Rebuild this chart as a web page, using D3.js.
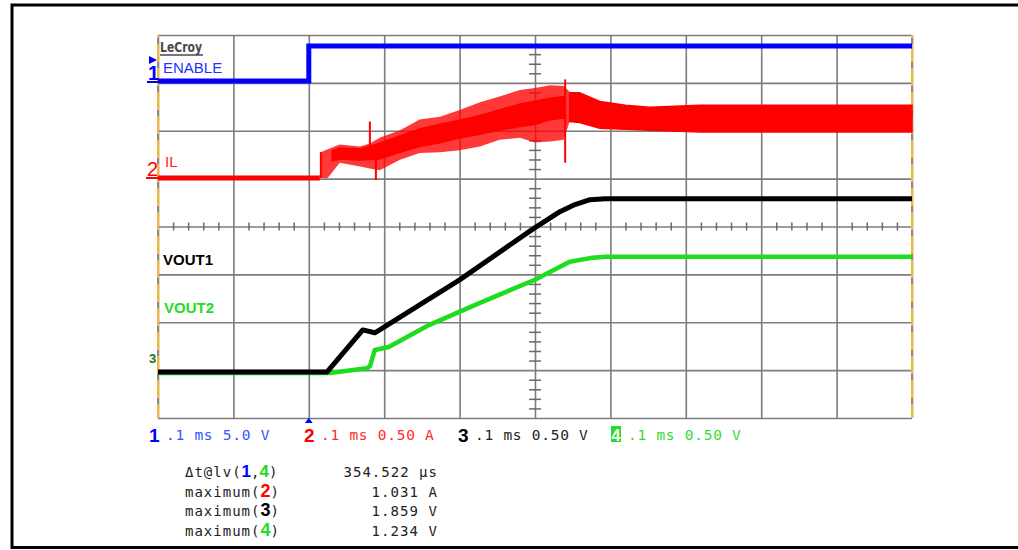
<!DOCTYPE html>
<html><head><meta charset="utf-8">
<script src="https://cdn.jsdelivr.net/npm/d3@7"></script>
<style>body{margin:0;background:#fff}svg{display:block}</style>
</head><body><svg id="c" width="1018" height="550"></svg>
<script>
// ---------- data (time in ms, values in channel units) ----------
const gridTimes = [-0.2,-0.1,0,0.1,0.2,0.3,0.4,0.5,0.6,0.7,0.8];
const gridDivs  = [-4,-3,-2,-1,0,1,2,3,4];

const channelNames   = ["ENABLE","IL","VOUT1","VOUT2"];
const channelPerDiv  = [5.0, 0.50, 0.50, 0.50];
const channelZeroDiv = [3.04, 1.013, -3.04, -3.06];

const enableTime  = [-0.2, 0, 0, 0.8];
const enableVolts = [0, 0, 3.66, 3.66];

const ilBaseTime = [-0.2, 0.0146];
const ilBaseAmps = [0, 0];

const ilRippleTime = [0.0146,0.016,0.025,0.041,0.068,0.081,0.094,0.121,0.147,0.174,0.200,0.227,0.253,0.280,0.300,0.320,0.338,0.346];
const ilRippleHigh = [0,0.27,0.30,0.35,0.33,0.36,0.42,0.50,0.61,0.64,0.71,0.79,0.85,0.92,0.94,0.97,0.96,0.90];
const ilRippleLow  = [0,0,0,0.16,0.12,0.10,0.08,0.19,0.26,0.27,0.29,0.33,0.40,0.42,0.37,0.38,0.40,0.59];

const ilCoreTime = [0.030,0.041,0.068,0.094,0.121,0.147,0.174,0.200,0.227,0.253,0.280,0.300,0.320,0.340];
const ilCoreHigh = [0.29,0.32,0.31,0.37,0.45,0.52,0.57,0.61,0.66,0.72,0.78,0.81,0.84,0.86];
const ilCoreLow  = [0.17,0.19,0.18,0.19,0.26,0.32,0.36,0.41,0.45,0.49,0.53,0.55,0.60,0.62];

const ilSettledTime = [0.346,0.359,0.386,0.420,0.452,0.519,0.8];
const ilSettledHigh = [0.89,0.89,0.80,0.76,0.74,0.76,0.76];
const ilSettledLow  = [0.59,0.58,0.52,0.51,0.50,0.48,0.48];

const ilSpikeTime = [0.016,0.081,0.089,0.340];
const ilSpikeLow  = [0,0.30,-0.02,0.16];
const ilSpikeHigh = [0.27,0.59,0.30,1.03];

const vout1Time  = [-0.2,0.024,0.0716,0.0875,0.094,0.200,0.296,0.333,0.353,0.373,0.393,0.8];
const vout1Volts = [0,0,0.44,0.41,0.44,0.963,1.487,1.675,1.749,1.80,1.81,1.81];

const vout2Time  = [-0.2,0.028,0.077,0.081,0.0875,0.106,0.160,0.227,0.300,0.346,0.373,0.393,0.8];
const vout2Volts = [0,0,0.05,0.07,0.24,0.272,0.503,0.733,0.974,1.162,1.20,1.215,1.215];

const footerChannels = ["1","2","3","4"];
const footerTexts = [".1 ms 5.0 V",".1 ms 0.50 A",".1 ms 0.50 V",".1 ms 0.50 V"];
const measureLabels = ["maximum(","maximum(","maximum("];
const measureChannels = ["2","3","4"];
const measureValues = ["354.522 μs","1.031 A","1.859 V","1.234 V"];

// ---------- drawing ----------
const svg = d3.select("#c");
const P = {l:158, r:912, t:35, b:418};
const colors = ["#0000ff","#ff0000","#000000","#1edc1e"];
const textColors = ["#3355ff","#ff2a2a","#222222","#33dd33"];

const x = d3.scaleLinear().domain([-0.2,0.8]).range([P.l,P.r]);
const ydiv = d3.scaleLinear().domain([-4,4]).range([P.b,P.t]);
const chY = i => d3.scaleLinear().domain([0,channelPerDiv[i]])
  .range([ydiv(channelZeroDiv[i]), ydiv(channelZeroDiv[i]+1)]);
const yCh = [0,1,2,3].map(chY);

// outer frame
svg.append("rect").attr("x",12).attr("y",5).attr("width",1020).attr("height",542.5)
  .attr("fill","none").attr("stroke","#000").attr("stroke-width",3);

// grid via axes
const gGridV = svg.append("g").attr("transform",`translate(0,${P.b})`)
  .call(d3.axisBottom(x).tickValues(gridTimes).tickSize(-(P.b-P.t)).tickFormat(""));
const gGridH = svg.append("g").attr("transform",`translate(${P.l},0)`)
  .call(d3.axisLeft(ydiv).tickValues(gridDivs).tickSize(-(P.r-P.l)).tickFormat(""));
[gGridV,gGridH].forEach(g=>{g.select(".domain").remove();
  g.selectAll("line").attr("stroke","#7d7d7d").attr("stroke-width",1.6);});

// minor ticks on centre cross
const minorT = d3.range(-0.2,0.8001,0.02).filter(t=>Math.abs(Math.round(t*10)-t*10)>1e-6);
const minorD = d3.range(-4,4.001,0.2).filter(d=>Math.abs(Math.round(d)-d)>1e-6);
const gMinX = svg.append("g").attr("transform",`translate(0,${ydiv(0)-4})`)
  .call(d3.axisBottom(x).tickValues(minorT).tickSize(8).tickFormat(""));
const gMinY = svg.append("g").attr("transform",`translate(${x(0.3)+6},0)`)
  .call(d3.axisLeft(ydiv).tickValues(minorD).tickSize(12).tickFormat(""));
[gMinX,gMinY].forEach(g=>{g.select(".domain").remove();
  g.selectAll("line").attr("stroke","#6a6a6a").attr("stroke-width",1.5);});

// orange side edges with grey dashes
[P.l,P.r].forEach(ex=>{
  svg.append("line").attr("x1",ex).attr("x2",ex).attr("y1",P.t).attr("y2",P.b)
    .attr("stroke","#ffb52e").attr("stroke-width",2);
  svg.append("line").attr("x1",ex).attr("x2",ex).attr("y1",P.t).attr("y2",P.b)
    .attr("stroke","#8a8a8a").attr("stroke-width",2)
    .attr("stroke-dasharray","6 18").attr("stroke-dashoffset",-3);
});

const line = ys => d3.line().x(d=>x(d[0])).y(d=>ys(d[1]));
const zip = (a,b)=>a.map((v,i)=>[v,b[i]]);
const zip3 = (a,b,c)=>a.map((v,i)=>[v,b[i],c[i]]);
const area = ys => d3.area().x(d=>x(d[0])).y0(d=>ys(d[1])).y1(d=>ys(d[2]));

// ENABLE
svg.append("path").datum(zip(enableTime,enableVolts)).attr("d",line(yCh[0]))
  .attr("fill","none").attr("stroke",colors[0]).attr("stroke-width",5);

// IL
svg.append("path").datum(zip(ilBaseTime,ilBaseAmps)).attr("d",line(yCh[1]))
  .attr("fill","none").attr("stroke",colors[1]).attr("stroke-width",5);
svg.append("path").datum(zip3(ilRippleTime,ilRippleLow,ilRippleHigh)).attr("d",area(yCh[1]))
  .attr("fill",colors[1]).attr("fill-opacity",0.78);
svg.append("path").datum(zip3(ilCoreTime,ilCoreLow,ilCoreHigh)).attr("d",area(yCh[1]))
  .attr("fill",colors[1]);
svg.append("path").datum(zip3(ilSettledTime,ilSettledLow,ilSettledHigh)).attr("d",area(yCh[1]))
  .attr("fill",colors[1]).attr("stroke",colors[1]).attr("stroke-width",1.5);
svg.selectAll(".spike").data(zip3(ilSpikeTime,ilSpikeLow,ilSpikeHigh)).join("line")
  .attr("x1",d=>x(d[0])).attr("x2",d=>x(d[0]))
  .attr("y1",d=>yCh[1](d[1])).attr("y2",d=>yCh[1](d[2]))
  .attr("stroke",colors[1]).attr("stroke-width",2);

// VOUT2 then VOUT1
svg.append("path").datum(zip(vout2Time,vout2Volts)).attr("d",line(yCh[3]))
  .attr("fill","none").attr("stroke",colors[3]).attr("stroke-width",4.5).attr("stroke-linejoin","round");
svg.append("path").datum(zip(vout1Time,vout1Volts)).attr("d",line(yCh[2]))
  .attr("fill","none").attr("stroke",colors[2]).attr("stroke-width",5).attr("stroke-linejoin","round");

// in-screen labels
svg.append("text").attr("x",160).attr("y",52).text("LeCroy")
  .attr("font-family","DejaVu Sans Condensed, DejaVu Sans").attr("font-weight","bold")
  .attr("font-size",14).attr("fill","#4a4a4a").attr("textLength",42).attr("lengthAdjust","spacingAndGlyphs");
svg.append("line").attr("x1",160).attr("x2",203).attr("y1",55).attr("y2",55).attr("stroke","#4a4a4a").attr("stroke-width",1.5);
const lab = (t,xx,yy,c,w)=>svg.append("text").attr("x",xx).attr("y",yy).text(t)
  .attr("font-family","Liberation Sans, Arial, sans-serif").attr("font-size",15)
  .attr("font-weight",w).attr("fill",c);
lab(channelNames[0],163,73,"#2233ff","normal");
lab(channelNames[1],165,167,"#ff1a1a","normal");
lab(channelNames[2],163,265,"#000","bold");
lab(channelNames[3],164,313,"#22dd22","bold");

// left channel markers
svg.append("path").attr("d","M149,56 L157,60 L149,64 Z").attr("fill",colors[0]);
svg.append("text").attr("x",148).attr("y",80).text("1").attr("font-family","Liberation Sans, Arial")
  .attr("font-weight","bold").attr("font-size",20).attr("fill",colors[0]);
svg.append("line").attr("x1",147).attr("x2",158).attr("y1",82).attr("y2",82).attr("stroke",colors[0]).attr("stroke-width",2);
svg.append("text").attr("x",147).attr("y",176).text("2").attr("font-family","Liberation Sans, Arial")
  .attr("font-size",20).attr("fill",colors[1]);
svg.append("line").attr("x1",146).attr("x2",158).attr("y1",178).attr("y2",178).attr("stroke",colors[1]).attr("stroke-width",2);
svg.append("text").attr("x",149).attr("y",363).text("3").attr("font-family","Liberation Sans, Arial")
  .attr("font-weight","bold").attr("font-size",13).attr("fill","#117711");
// trigger marker
svg.append("path").attr("d",`M${x(0)-4},423 L${x(0)+4},423 L${x(0)},418 Z`).attr("fill",colors[0]);

// footer row
const mono = "DejaVu Sans Mono, Liberation Mono, monospace";
const footX = [149,304,458,611];
footerChannels.forEach((c,i)=>{
  if(i===3){
    svg.append("rect").attr("x",footX[i]).attr("y",426).attr("width",10).attr("height",16).attr("fill","#22dd22");
    svg.append("text").attr("x",footX[i]+5).attr("y",441).attr("text-anchor","middle").text(c)
      .attr("font-family","Liberation Sans, Arial").attr("font-weight","bold").attr("font-size",16).attr("fill","#fff");
  } else {
    svg.append("text").attr("x",footX[i]).attr("y",442).text(c)
      .attr("font-family","Liberation Sans, Arial").attr("font-weight","bold").attr("font-size",19).attr("fill",colors[i]);
  }
  svg.append("text").attr("x",footX[i]+17).attr("y",440).text(footerTexts[i])
    .attr("font-family",mono).attr("font-size",14.5).attr("fill",textColors[i])
    .attr("textLength",footerTexts[i].length*9.4).attr("lengthAdjust","spacing");
});

// measurements
const rowY = [477,497,516,536];
const m0 = svg.append("text").attr("x",185).attr("y",rowY[0]).attr("font-family",mono).attr("font-size",14).attr("fill","#222");
m0.append("tspan").text("Δt@lv(").attr("letter-spacing",1);
m0.append("tspan").text("1").attr("font-family","Liberation Sans, Arial").attr("font-weight","bold").attr("font-size",17).attr("fill",colors[0]);
m0.append("tspan").text(",");
m0.append("tspan").text("4").attr("font-family","Liberation Sans, Arial").attr("font-weight","bold").attr("font-size",17).attr("fill","#22dd22");
m0.append("tspan").text(")");
measureLabels.forEach((l,i)=>{
  const t = svg.append("text").attr("x",185).attr("y",rowY[i+1]).attr("font-family",mono).attr("font-size",14).attr("fill","#222");
  t.append("tspan").text(l).attr("letter-spacing",1);
  const ci = +measureChannels[i]-1;
  t.append("tspan").text(measureChannels[i]).attr("font-family","Liberation Sans, Arial").attr("font-weight","bold")
    .attr("font-size",18).attr("fill", ci===3 ? "#22dd22" : colors[ci]);
  t.append("tspan").text(")");
});
measureValues.forEach((v,i)=>{
  svg.append("text").attr("x",437).attr("y",rowY[i]).attr("text-anchor","end").text(v)
    .attr("font-family",mono).attr("font-size",14).attr("fill","#222")
    .attr("textLength",v.length*9.35).attr("lengthAdjust","spacing");
});
</script></body></html>
